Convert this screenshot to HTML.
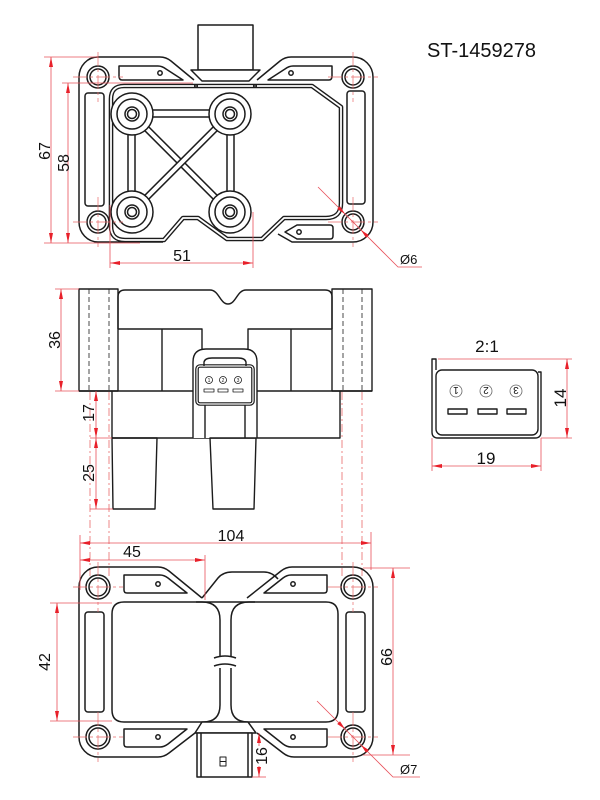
<!DOCTYPE html>
<html><head><meta charset="utf-8">
<style>
html,body{margin:0;padding:0;background:#fff;}
svg{display:block;}
text{font-family:"Liberation Sans",Arial,sans-serif;fill:#111;}
</style></head><body>
<svg width="600" height="800" viewBox="0 0 600 800" xmlns="http://www.w3.org/2000/svg">
<defs>
<marker id="ar" viewBox="0 0 10 10" refX="10" refY="5" markerWidth="10" markerHeight="10" markerUnits="userSpaceOnUse" orient="auto-start-reverse"><path d="M0,3 L10,5 L0,7 z" fill="#e8202a"/></marker>
</defs>

<!-- Title -->
<text x="427" y="57" font-size="20">ST-1459278</text>

<!-- ============ TOP VIEW ============ -->
<g fill="none" stroke="#1c1c1c" stroke-width="1.5" stroke-linejoin="round">
  <path d="M79,222 L79,77 A19,20 0 0 1 98,57 L160,57 Q166,57 171,61 L194,80"/>
  <path d="M257,80 L280,61 Q285,57 291,57 L353,57 A20,20 0 0 1 373,77 L373,222 A20,20 0 0 1 353,242 L292,242 L278,234"/>
  <path d="M79,222 A19,20 0 0 0 98,242 L163,242"/>
  <path d="M119,66 L158,66 Q162,66 166,69 L183,80 L122,80 Q119,80 119,76 Z"/>
  <path d="M332,66 L293,66 Q289,66 285,69 L268,80 L329,80 Q332,80 332,76 Z"/>
  <path d="M285,232 L297,225 L330,225 Q333,225 333,228 L333,236 Q333,239 330,239 L297,239 Z"/>
  <rect x="85" y="93" width="19" height="113" rx="3"/>
  <rect x="347" y="91" width="18" height="113" rx="3"/>
  <circle cx="160" cy="73" r="2.2"/>
  <circle cx="291" cy="73" r="2.2"/>
  <circle cx="299" cy="232" r="2.2"/>
  <path d="M111,206 L111,99 Q111,86 124,86 L312,86 L341,107 L341,203 Q341,218 326,218 L284,218 L262,239 L227,239 L198,218 L183,218 L164,240 L125,240 Q111,240 111,226 Z" stroke-width="4.6"/>
  <path d="M111,206 L111,99 Q111,86 124,86 L312,86 L341,107 L341,203 Q341,218 326,218 L284,218 L262,239 L227,239 L198,218 L183,218 L164,240 L125,240 Q111,240 111,226 Z" stroke="#fff" stroke-width="1.8"/>
  <rect x="132" y="110" width="98" height="7" fill="#fff"/>
  <rect x="128" y="114" width="7" height="98" fill="#fff"/>
  <rect x="227" y="114" width="7" height="98" fill="#fff"/>
  <line x1="132" y1="114" x2="230" y2="212" stroke-width="7"/>
  <line x1="132" y1="114" x2="230" y2="212" stroke="#fff" stroke-width="4"/>
  <line x1="230" y1="114" x2="132" y2="212" stroke-width="7"/>
  <line x1="230" y1="114" x2="132" y2="212" stroke="#fff" stroke-width="4"/>
  <g fill="#fff">
    <circle cx="132" cy="114" r="21"/><circle cx="132" cy="114" r="15"/><circle cx="132" cy="114" r="7"/><circle cx="132" cy="114" r="4.5"/>
    <circle cx="230" cy="114" r="21"/><circle cx="230" cy="114" r="15"/><circle cx="230" cy="114" r="7"/><circle cx="230" cy="114" r="4.5"/>
    <circle cx="132" cy="212" r="21"/><circle cx="132" cy="212" r="15"/><circle cx="132" cy="212" r="7"/><circle cx="132" cy="212" r="4.5"/>
    <circle cx="230" cy="212" r="21"/><circle cx="230" cy="212" r="15"/><circle cx="230" cy="212" r="7"/><circle cx="230" cy="212" r="4.5"/>
  </g>
  <rect x="198" y="25" width="55" height="45" fill="#fff"/>
  <polygon points="191,70 260,70 249,81 202,81" fill="#fff"/>
  <circle cx="196" cy="86" r="1.3"/><circle cx="255" cy="86" r="1.3"/>
  <circle cx="98" cy="77" r="11"/><circle cx="98" cy="77" r="8"/>
  <circle cx="353" cy="77" r="11"/><circle cx="353" cy="77" r="8"/>
  <circle cx="98" cy="222" r="11"/><circle cx="98" cy="222" r="8"/>
  <circle cx="353" cy="222" r="11"/><circle cx="353" cy="222" r="8"/>
</g>
<g stroke="#e86a6a" stroke-width="0.7" fill="none" stroke-dasharray="14 3 3 3">
  <line x1="73" y1="77" x2="123" y2="77"/><line x1="98" y1="52" x2="98" y2="102"/>
  <line x1="328" y1="77" x2="378" y2="77"/><line x1="353" y1="52" x2="353" y2="102"/>
  <line x1="73" y1="222" x2="123" y2="222"/><line x1="98" y1="197" x2="98" y2="247"/>
  <line x1="328" y1="222" x2="378" y2="222"/><line x1="353" y1="197" x2="353" y2="247"/>
</g>
<g stroke="#e8505a" stroke-width="0.8" fill="none">
  <line x1="44" y1="57" x2="98" y2="57"/>
  <line x1="44" y1="243" x2="140" y2="243"/>
  <line x1="62" y1="83" x2="193" y2="83"/>
  <line x1="51" y1="57" x2="51" y2="243" marker-start="url(#ar)" marker-end="url(#ar)"/>
  <line x1="68" y1="83" x2="68" y2="243" marker-start="url(#ar)" marker-end="url(#ar)"/>
  <line x1="110" y1="205" x2="110" y2="268"/>
  <line x1="253" y1="212" x2="253" y2="268"/>
  <line x1="110" y1="263" x2="253" y2="263" marker-start="url(#ar)" marker-end="url(#ar)"/>
  <polyline points="318,187 398,267 422,267"/>
</g>
<g fill="#e8202a">
  <polygon points="345,214 337.2,209 340,206.2"/>
  <polygon points="361,230 368.8,235 366,237.8"/>
</g>
<text transform="translate(44,151) rotate(-90)" y="6" font-size="16" text-anchor="middle">67</text>
<text transform="translate(63,163) rotate(-90)" y="6" font-size="16" text-anchor="middle">58</text>
<text x="182" y="261" font-size="16" text-anchor="middle">51</text>
<text x="400" y="264" font-size="13">Ø6</text>

<!-- ============ SIDE VIEW ============ -->
<g fill="none" stroke="#1c1c1c" stroke-width="1.4" stroke-linejoin="round">
  <rect x="79" y="289" width="39" height="102"/>
  <rect x="332" y="289" width="40" height="102"/>
  <path d="M118,329 L118,297 Q118,290 125,290 L210,290 C219,290 220,304 228,304 C236,304 237,290 246,290 L325,290 Q332,290 332,297 L332,329"/>
  <path d="M118,329 L202,329 L202,349"/>
  <path d="M248,349 L248,329 L332,329"/>
  <line x1="162" y1="329" x2="162" y2="391"/>
  <line x1="291" y1="329" x2="291" y2="391"/>
  <line x1="79" y1="391" x2="372" y2="391"/>
  <path d="M112,391 L112,438 L340,438 L340,391"/>
  <path d="M193,438 L193,362 Q193,349 206,349 L244,349 Q257,349 257,362 L257,438" fill="#fff"/>
  <line x1="205" y1="404" x2="205" y2="438"/>
  <line x1="245" y1="404" x2="245" y2="438"/>
  <rect x="197" y="366" width="56" height="38" rx="3" stroke-width="3.6"/>
  <rect x="197" y="366" width="56" height="38" rx="3" stroke="#fff" stroke-width="1.2"/>
  <path d="M204,366 L204,362 Q205,358 212,358 L238,358 Q245,358 246,362 L246,366"/>
  <polygon points="112,438 157,438 155,509 113,509"/>
  <polygon points="210,438 256,438 254,509 213,509"/>
  <g stroke-width="0.8">
    <circle cx="209" cy="380" r="3.5"/><circle cx="223" cy="380" r="3.5"/><circle cx="238" cy="380" r="3.5"/>
    <rect x="204" y="389" width="10" height="3"/><rect x="218" y="389" width="10" height="3"/><rect x="233" y="389" width="10" height="3"/>
  </g>
  <g stroke-width="0.8" stroke-dasharray="5 3">
    <line x1="89" y1="289" x2="89" y2="391"/><line x1="109" y1="289" x2="109" y2="391"/>
    <line x1="343" y1="289" x2="343" y2="391"/><line x1="362" y1="289" x2="362" y2="391"/>
  </g>
</g>
<g font-size="5" text-anchor="middle">
  <text x="209" y="382">1</text><text x="223" y="382">2</text><text x="238" y="382">3</text>
</g>
<g stroke="#e86a6a" stroke-width="0.8" fill="none" stroke-dasharray="8 3 2 3">
  <line x1="90" y1="392" x2="90" y2="578"/><line x1="109" y1="392" x2="109" y2="578"/>
  <line x1="342" y1="392" x2="342" y2="578"/><line x1="362" y1="392" x2="362" y2="578"/>
</g>
<g stroke="#e8505a" stroke-width="0.8" fill="none">
  <line x1="55" y1="289" x2="79" y2="289"/>
  <line x1="55" y1="391" x2="79" y2="391"/>
  <line x1="61" y1="289" x2="61" y2="391" marker-start="url(#ar)" marker-end="url(#ar)"/>
  <line x1="90" y1="438" x2="112" y2="438"/>
  <line x1="90" y1="509" x2="113" y2="509"/>
  <line x1="96" y1="391" x2="96" y2="438" marker-start="url(#ar)" marker-end="url(#ar)"/>
  <line x1="96" y1="438" x2="96" y2="509" marker-start="url(#ar)" marker-end="url(#ar)"/>
</g>
<text transform="translate(54,340) rotate(-90)" y="6" font-size="16" text-anchor="middle">36</text>
<text transform="translate(88,413) rotate(-90)" y="6" font-size="16" text-anchor="middle">17</text>
<text transform="translate(88,473) rotate(-90)" y="6" font-size="16" text-anchor="middle">25</text>

<!-- ============ CONNECTOR DETAIL ============ -->
<text x="487" y="352" font-size="17" text-anchor="middle">2:1</text>
<g fill="none" stroke="#1c1c1c" stroke-width="1.4" stroke-linejoin="round">
  <path d="M436,370 L436,359 L432,359 L432,432 Q432,438 438,438 L535,438 Q541,438 541,432 L541,372 L538,372"/>
  <rect x="436" y="370" width="102" height="65" rx="6"/>
  <rect x="448" y="409" width="19" height="5"/>
  <rect x="478" y="409" width="19" height="5"/>
  <rect x="507" y="409" width="19" height="5"/>
  <g stroke="#666" stroke-width="0.8">
    <circle cx="456" cy="391" r="6"/><circle cx="486" cy="391" r="6"/><circle cx="516" cy="391" r="6"/>
  </g>
</g>
<g font-size="10" text-anchor="middle">
  <text transform="rotate(180 456 391)" x="456" y="395">1</text>
  <text transform="rotate(180 486 391)" x="486" y="395">2</text>
  <text transform="rotate(180 516 391)" x="516" y="395">3</text>
</g>
<g stroke="#e8505a" stroke-width="0.8" fill="none">
  <line x1="438" y1="359" x2="572" y2="359"/>
  <line x1="541" y1="438" x2="572" y2="438"/>
  <line x1="567" y1="359" x2="567" y2="438" marker-start="url(#ar)" marker-end="url(#ar)"/>
  <line x1="432" y1="438" x2="432" y2="471"/>
  <line x1="541" y1="438" x2="541" y2="471"/>
  <line x1="432" y1="466" x2="541" y2="466" marker-start="url(#ar)" marker-end="url(#ar)"/>
</g>
<text transform="translate(560,398) rotate(-90)" y="6" font-size="17" text-anchor="middle">14</text>
<text x="486" y="464" font-size="17" text-anchor="middle">19</text>

<!-- ============ BOTTOM VIEW ============ -->
<g fill="none" stroke="#1c1c1c" stroke-width="1.5" stroke-linejoin="round">
  <path d="M79,737 L79,587 A19,20 0 0 1 98,567 L158,567 Q164,567 169,571 L202,598"/>
  <path d="M247,598 L281,571 Q286,567 292,567 L353,567 A20,20 0 0 1 373,587 L373,737 A20,20 0 0 1 353,757 L294,757 Q288,757 283,753 L257,733"/>
  <path d="M195,733 L169,753 Q164,757 158,757 L98,757 A19,20 0 0 1 79,737"/>
  <path d="M202,598 L218,578 Q223,572 232,572 L264,572 Q272,572 278,579"/>
  <line x1="196" y1="602" x2="255" y2="602"/>
  <path d="M124,575 L160,575 Q164,575 168,578 L187,593 L127,593 Q124,593 124,590 Z"/>
  <path d="M327,575 L291,575 Q287,575 283,578 L264,593 L324,593 Q327,593 327,590 Z"/>
  <path d="M124,729 L187,729 L168,744 Q164,747 160,747 L127,747 Q124,747 124,744 Z"/>
  <path d="M327,729 L264,729 L283,744 Q287,747 291,747 L324,747 Q327,747 327,744 Z"/>
  <rect x="85" y="612" width="19" height="100" rx="3"/>
  <rect x="346" y="612" width="19" height="100" rx="3"/>
  <circle cx="158" cy="584" r="2.2"/><circle cx="293" cy="584" r="2.2"/>
  <circle cx="158" cy="737" r="2.2"/><circle cx="293" cy="737" r="2.2"/>
  <path d="M220,656 L220,620 Q220,602 202,602 L124,602 Q112,602 112,614 L112,710 Q112,722 124,722 L203,722 Q220,722 220,705 L220,668"/>
  <path d="M231,656 L231,620 Q231,602 249,602 L326,602 Q338,602 338,614 L338,710 Q338,722 326,722 L248,722 Q231,722 231,705 L231,668"/>
  <path d="M214,658 Q225,654 236,658"/>
  <path d="M214,666 Q225,662 236,666"/>
  <polygon points="202,722 248,722 256,733 195,733" fill="#fff"/>
  <rect x="197" y="733" width="55" height="44" fill="#fff"/>
  <line x1="201" y1="733" x2="201" y2="777"/>
  <line x1="248" y1="733" x2="248" y2="777"/>
  <rect x="220" y="757" width="6" height="9" stroke-width="1"/>
  <line x1="220" y1="761.5" x2="226" y2="761.5" stroke-width="1"/>
  <circle cx="98" cy="587" r="12"/><circle cx="98" cy="587" r="9"/>
  <circle cx="353" cy="587" r="12"/><circle cx="353" cy="587" r="9"/>
  <circle cx="98" cy="737" r="12"/><circle cx="98" cy="737" r="9"/>
  <circle cx="353" cy="737" r="12"/><circle cx="353" cy="737" r="9"/>
</g>
<g stroke="#e86a6a" stroke-width="0.7" fill="none" stroke-dasharray="14 3 3 3">
  <line x1="73" y1="587" x2="123" y2="587"/><line x1="98" y1="562" x2="98" y2="612"/>
  <line x1="328" y1="587" x2="378" y2="587"/><line x1="353" y1="562" x2="353" y2="612"/>
  <line x1="73" y1="737" x2="123" y2="737"/><line x1="98" y1="712" x2="98" y2="762"/>
  <line x1="328" y1="737" x2="378" y2="737"/><line x1="353" y1="712" x2="353" y2="762"/>
</g>
<g stroke="#e8505a" stroke-width="0.8" fill="none">
  <line x1="80" y1="535" x2="80" y2="590"/>
  <line x1="205" y1="555" x2="205" y2="600"/>
  <line x1="371" y1="532" x2="371" y2="570"/>
  <line x1="80" y1="543" x2="371" y2="543" marker-start="url(#ar)" marker-end="url(#ar)"/>
  <line x1="80" y1="560" x2="205" y2="560" marker-start="url(#ar)" marker-end="url(#ar)"/>
  <line x1="50" y1="603" x2="112" y2="603"/>
  <line x1="50" y1="721" x2="112" y2="721"/>
  <line x1="57" y1="603" x2="57" y2="721" marker-start="url(#ar)" marker-end="url(#ar)"/>
  <line x1="363" y1="568" x2="410" y2="568"/>
  <line x1="363" y1="755" x2="410" y2="755"/>
  <line x1="393" y1="568" x2="393" y2="755" marker-start="url(#ar)" marker-end="url(#ar)"/>
  <line x1="252" y1="777" x2="266" y2="777"/>
  <line x1="259" y1="733" x2="259" y2="777" marker-start="url(#ar)" marker-end="url(#ar)"/>
  <polyline points="317,701 393,777 420,777"/>
</g>
<g fill="#e8202a">
  <polygon points="345,729 337.2,724 340,721.2"/>
  <polygon points="361,745 368.8,750 366,752.8"/>
</g>
<rect x="254" y="746" width="14" height="20" fill="#fff"/>
<text x="231" y="541" font-size="16" text-anchor="middle">104</text>
<text x="132" y="557" font-size="16" text-anchor="middle">45</text>
<text transform="translate(44,662) rotate(-90)" y="6" font-size="16" text-anchor="middle">42</text>
<text transform="translate(386,657) rotate(-90)" y="6" font-size="16" text-anchor="middle">66</text>
<text transform="translate(261,756) rotate(-90)" y="6" font-size="16" text-anchor="middle">16</text>
<text x="400" y="774" font-size="13">Ø7</text>
</svg>
</body></html>
